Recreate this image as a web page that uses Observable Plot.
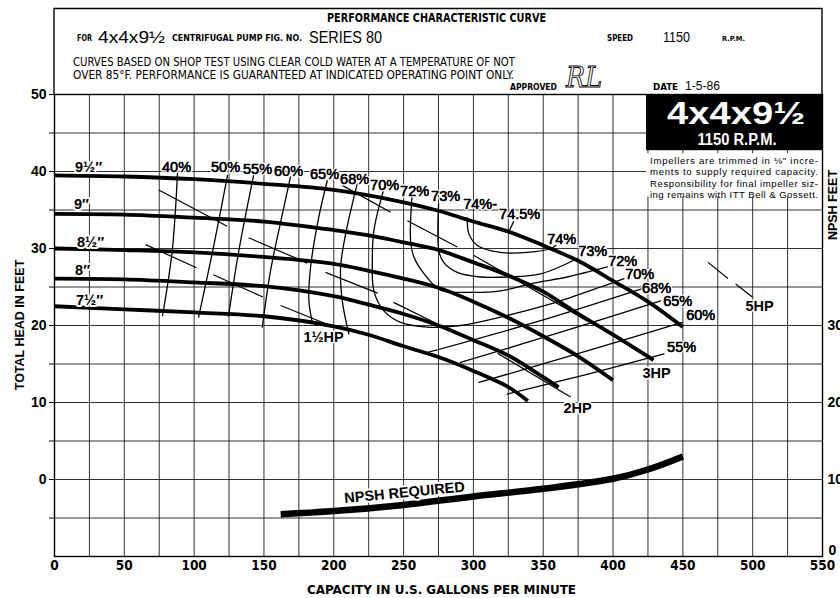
<!DOCTYPE html>
<html><head><meta charset="utf-8">
<script src="https://cdn.jsdelivr.net/npm/d3@7"></script>
<script src="https://cdn.jsdelivr.net/npm/@observablehq/plot@0.6"></script>
<style>
html,body{margin:0;padding:0;background:#fff;}
#chart{position:relative;width:840px;height:598px;overflow:hidden;background:#fff;}
</style></head><body><div id="chart"></div>
<script>
// ---------- DATA ----------
const gpmTicks = [0,50,100,150,200,250,300,350,400,450,500,550];
const headTicks = [0,10,20,30,40,50];
const npshTicks = [0,10,20,30];

// Head-capacity curves per impeller diameter [gpm, ft]
const head95 = [[0,39.5],[50,39.35],[100,39.0],[150,38.4],[200,37.6],[250,36.0],[275,34.9],[300,33.5],[325,32.2],[350,30.4],[375,28.4],[400,25.8],[425,23.1],[450,19.8]];
const head9  = [[0,34.5],[50,34.4],[100,34.0],[150,33.5],[200,32.4],[225,31.7],[250,30.8],[275,29.8],[300,28.2],[325,26.5],[350,24.4],[375,21.5],[400,18.8],[429,15.5]];
const head85 = [[0,30.0],[50,29.8],[100,29.5],[150,28.9],[200,28.0],[225,27.1],[250,26.1],[275,24.9],[300,23.1],[325,21.0],[350,18.6],[375,16.0],[400,12.9]];
const head8  = [[0,26.1],[50,26.0],[100,25.6],[150,25.1],[200,23.8],[225,22.7],[250,21.5],[275,20.0],[300,18.1],[325,16.1],[350,13.3],[361,12.0]];
const head75 = [[0,22.5],[50,22.1],[100,21.7],[150,21.2],[200,19.9],[225,18.8],[250,17.3],[275,15.9],[300,14.1],[325,12.0],[339,10.2]];
const impellerNames = ["9½″","9″","8½″","8″","7½″"];
const impellerLabelX = [24.4,19.3,25.8,20.1,25.1];
const impellerLabelY = [40.5,35.7,30.8,27.1,23.3];

// NPSH required [gpm, NPSH ft]
const npshReq = [[162,5.5],[200,5.9],[250,6.7],[300,7.8],[350,8.8],[400,10.1],[425,11.3],[450,13.0]];

// Efficiency iso-lines [gpm, ft]
const eff40  = [[88.1,39.8],[84.3,29.7],[77.4,21.3]];
const eff50  = [[123.9,39.5],[113.9,30.2],[103.2,21.1]];
const eff55  = [[142.6,39.5],[132.0,29.7],[124.6,21.2]];
const eff60  = [[169.0,39.3],[161.9,33.4],[154.7,27.1],[148.8,19.8]];
const eff65  = [[195.3,38.8],[189.3,34.1],[183.4,27.6],[182.2,23.2],[184.6,20.4]];
const eff68a = [[216.8,38.4],[208.5,31.9],[204.9,27.6],[206.1,23.2],[210.8,18.9]];
const eff70  = [[235.9,37.75],[228.7,32.3],[227.6,28.0],[228.7,24.5],[235.9,21.9],[247.9,20.4],[267.0,19.8],[290.8,20.0],[319.5,21.1],[355.3,22.8],[391.1,25.0],[407.8,26.1]];
const eff72  = [[256.2,37.3],[255.0,31.0],[257.2,29.0],[264.3,26.8],[276.5,24.6],[295.6,24.3],[319.5,24.5],[343.1,25.5],[367.3,26.3],[395.9,27.6]];
const eff73  = [[275.1,35.8],[275.3,29.7],[278.7,28.2],[288.5,26.9],[305.2,26.3],[324.3,26.3],[348.1,26.7],[374.4,28.7]];
const eff74  = [[295.6,34.0],[296.8,31.9],[302.8,30.4],[319.5,29.5],[338.6,29.5],[355.3,30.0],[359.0,30.4]];
const eff745 = [[328.8,33.5],[325.2,32.1]];
const eff68b = [[267.1,16.5],[343.8,20.4],[421.0,24.8]];
const eff65b = [[290.8,15.2],[362.0,19.1],[434.1,23.2]];
const eff60b = [[304.0,12.6],[376.0,16.4],[449.6,20.4]];
const eff55b = [[324.3,11.1],[380.0,13.6],[436.5,16.3]];
const effLines = [eff40,eff50,eff55,eff60,eff65,eff68a,eff70,eff72,eff73,eff74,eff745,eff68b,eff65b,eff60b,eff55b];

const effLabelText = ["40%","50%","55%","60%","65%","68%","70%","72%","73%","74%-","74.5%","74%","73%","72%","70%","68%","65%","60%","55%"];
const effLabelX = [87.4,122.5,145.4,167.6,193.4,214.9,236.4,257.9,280.1,304.8,333.1,363.2,385.4,406.9,419.1,431.2,446.3,462.8,449.1];
const effLabelY = [40.6,40.5,40.3,40.0,39.6,39.0,38.2,37.4,36.8,35.7,34.4,31.2,29.6,28.3,26.6,24.8,23.2,21.3,17.1];

// Brake horsepower lines, dashed segments [gpm1, ft1, gpm2, ft2]
const hp15 = [[65.2,30.5,101.7,27.5],[113.7,26.6,149.2,23.7],[161.9,22.6,200.1,19.8]];
const hp2  = [[74.7,37.6,123.7,32.9],[139.0,31.4,181.2,28.1],[194.1,26.9,231.4,24.2],[242.8,23.0,276.5,20.0],[317.3,16.4,369.6,10.7]];
const hp3  = [[206.1,38.2,240.7,34.7],[252.7,33.6,288.5,30.2],[300.4,29.1,381.6,20.6],[393.5,19.4,428.2,15.5]];
const hp5  = [[468.0,28.2,482.3,26.1],[487.8,25.4,499.8,23.7]];
const hpLabelText = ["1½HP","2HP","3HP","5HP"];
const hpLabelX = [192.7,374.6,431.2,505.0];
const hpLabelY = [18.5,9.3,13.8,22.5];

// ---------- TABLES ----------
const headRows = [head95,head9,head85,head8,head75].flatMap((c,i)=>c.map(([q,h])=>({id:i,q,h})));
const effRows = effLines.flatMap((c,i)=>c.map(([q,h])=>({id:i,q,h})));
const hpRows = [hp15,hp2,hp3,hp5].flatMap((s,i)=>s.map(([a,b,c,d])=>({id:i,a,b,c,d})));
const impLabels = impellerNames.map((t,i)=>({t,x:impellerLabelX[i],y:impellerLabelY[i]}));
const effLabels = effLabelText.map((t,i)=>({t,x:effLabelX[i],y:effLabelY[i]}));
const hpLabels = hpLabelText.map((t,i)=>({t,x:hpLabelX[i],y:hpLabelY[i]}));
const npshRows = npshReq.map(([q,n])=>({q,n}));

const SANS = "Liberation Sans, Arial, Helvetica, sans-serif";
const COND = "'Liberation Sans Narrow','DejaVu Sans Condensed','Liberation Sans',sans-serif";

const plot = Plot.plot({
  width: 840, height: 598,
  marginLeft: 54, marginRight: 18, marginTop: 94, marginBottom: 42,
  x: {domain: [0, 550]},
  y: {domain: [-10, 50]},
  style: {fontFamily: SANS, background: "white", overflow: "visible"},
  marks: [
    Plot.ruleX(d3.range(25, 550, 25), {stroke: "#1a1a1a", strokeWidth: 0.9}),
    Plot.ruleY(d3.range(-5, 50, 5), {stroke: "#1a1a1a", strokeWidth: 0.9}),
    Plot.rect([0], {x1: 424, x2: 550, y1: 42.7, y2: 50, fill: "black"}),
    Plot.rect([0], {x1: 424, x2: 550, y1: 36.7, y2: 42.3, fill: "white"}),
    Plot.line(effRows, {x: "q", y: "h", z: "id", stroke: "black", strokeWidth: 1.3, curve: "catmull-rom"}),
    Plot.link(hpRows, {x1: "a", y1: "b", x2: "c", y2: "d", stroke: "black", strokeWidth: 1.2}),
    Plot.line(headRows, {x: "q", y: "h", z: "id", stroke: "black", strokeWidth: 3.8, curve: "catmull-rom", strokeLinecap: "butt"}),
    Plot.line(npshRows, {x: "q", y: d => d.n - 10, stroke: "black", strokeWidth: 6.5, curve: "catmull-rom", strokeLinecap: "butt"}),
    Plot.text(impLabels, {x: "x", y: "y", text: "t", fontSize: 14.5, fontWeight: "bold", fill: "black", stroke: "white", strokeWidth: 4, paintOrder: "stroke"}),
    Plot.text(effLabels, {x: "x", y: "y", text: "t", fontSize: 14.5, fill: "black", stroke: "white", strokeWidth: 3, paintOrder: "stroke"}),
    Plot.text(effLabels, {x: "x", y: "y", text: "t", fontSize: 14.5, fill: "black", stroke: "black", strokeWidth: 0.45}),
    Plot.text(hpLabels, {x: "x", y: "y", text: "t", fontSize: 14.5, fontWeight: "bold", fill: "black", stroke: "white", strokeWidth: 3, paintOrder: "stroke"}),
    Plot.text(["NPSH REQUIRED"], {x: 250.7, y: -1.7, text: d => d, rotate: -5.5, fontSize: 14.5, fontWeight: "bold", fill: "black", stroke: "white", strokeWidth: 4, paintOrder: "stroke"}),
    Plot.frame({stroke: "black", strokeWidth: 1.4}),
    Plot.axisY({ticks: d3.range(-5, 51, 5), tickFormat: d => (d % 10 === 0 && headTicks.includes(d)) ? d : "", tickSize: 5, tickPadding: 3, fontSize: 14, fontWeight: "bold", label: null}),
    Plot.axisX({ticks: gpmTicks, tickSize: 0, tickPadding: 4, fontSize: 13.5, fontWeight: "bold", fontFamily: COND, label: null}),
    Plot.text(npshTicks.filter(d => d > 0), {x: 550, y: d => d - 10, text: d => String(d), textAnchor: "start", dx: 5, fontSize: 14, fontWeight: "bold"}),
    Plot.text(npshTicks.filter(d => d === 0), {x: 550, y: d => d - 10, text: d => String(d), textAnchor: "start", dx: 6, dy: -6, fontSize: 14, fontWeight: "bold"})
  ]
});
document.getElementById("chart").appendChild(plot);

// ---------- HEADER AND ANNOTATION TEXT ----------
const svg = d3.select(plot);
const g = svg.append("g").attr("text-anchor", "start");
g.append("path").attr("d", "M54,94V8.5H822V94").attr("fill", "none").attr("stroke", "black").attr("stroke-width", 1.4);

const headerText = [
  ["PERFORMANCE CHARACTERISTIC CURVE", 327, 22, 11.5, "bold", 219, COND],
  ["FOR", 77, 41, 8, "bold", 15, COND],
  ["4x4x9½", 98, 42.5, 17, "normal", 67, SANS],
  ["CENTRIFUGAL PUMP FIG. NO.", 172, 41, 8, "bold", 130, COND],
  ["SERIES 80", 309, 43, 16.5, "normal", 73, SANS],
  ["SPEED", 607, 41, 8, "bold", 26, COND],
  ["1150", 663, 41.5, 15, "normal", 27, SANS],
  ["R.P.M.", 722, 41, 7, "bold", 23, COND],
  ["CURVES BASED ON SHOP TEST USING CLEAR COLD WATER AT A TEMPERATURE OF NOT", 73, 65.5, 11.5, "normal", 442, COND],
  ["OVER 85°F. PERFORMANCE IS GUARANTEED AT INDICATED OPERATING POINT ONLY.", 73, 78.5, 11.5, "normal", 441, COND],
  ["APPROVED", 510, 89.5, 8, "bold", 47, COND],
  ["DATE", 653, 89.5, 8, "bold", 25, COND],
  ["1-5-86", 685, 89.5, 12, "normal", 35, SANS]
];
for (const [s, x, y, size, w, len, fam] of headerText) {
  g.append("text").attr("x", x).attr("y", y).attr("text-anchor", "start").attr("font-size", size).attr("font-weight", w)
    .attr("font-family", fam).attr("textLength", len).attr("lengthAdjust", "spacingAndGlyphs").attr("fill", "black").text(s);
}
// signature
g.append("text").attr("x", 566).attr("y", 87).attr("text-anchor", "start").attr("font-size", 27).attr("font-style", "italic")
  .attr("font-family", "DejaVu Serif, serif").attr("font-weight", "normal").attr("fill", "none").attr("stroke", "black").attr("stroke-width", 0.9)
  .attr("textLength", 36).attr("lengthAdjust", "spacingAndGlyphs").text("RL");

// black box text
g.append("text").attr("x", 736).attr("y", 124).attr("text-anchor", "middle").attr("font-size", 31).attr("font-weight", "bold")
  .attr("font-family", SANS).attr("fill", "white").attr("textLength", 138).attr("lengthAdjust", "spacingAndGlyphs").text("4x4x9½");
g.append("text").attr("x", 737).attr("y", 145).attr("text-anchor", "middle").attr("font-size", 16).attr("font-weight", "bold")
  .attr("font-family", SANS).attr("fill", "white").attr("textLength", 79).attr("lengthAdjust", "spacingAndGlyphs").text("1150 R.P.M.");
const noteLines = ["Impellers are trimmed in ⅛\" incre-", "ments to supply required capacity.", "Responsibility for final impeller siz-", "ing remains with ITT Bell & Gossett."];
noteLines.forEach((s, i) => {
  g.append("text").attr("x", 650).attr("y", 163.5 + i * 11.5).attr("text-anchor", "start").attr("font-size", 9.6).attr("font-family", SANS)
    .attr("fill", "black").attr("textLength", 168).attr("lengthAdjust", "spacing").text(s);
});

// axis titles
g.append("text").attr("transform", "translate(24,325) rotate(-90)").attr("text-anchor", "middle").attr("font-size", 12.5)
  .attr("font-weight", "bold").attr("font-family", SANS).attr("fill", "black").text("TOTAL HEAD IN FEET");
g.append("text").attr("transform", "translate(837,205) rotate(-90)").attr("text-anchor", "middle").attr("font-size", 12.5)
  .attr("font-weight", "bold").attr("font-family", SANS).attr("fill", "black").text("NPSH FEET");
g.append("text").attr("x", 307).attr("y", 594).attr("text-anchor", "start").attr("font-size", 12).attr("font-weight", "bold").attr("font-family", COND)
  .attr("fill", "black").attr("textLength", 269).attr("lengthAdjust", "spacingAndGlyphs").text("CAPACITY IN U.S. GALLONS PER MINUTE");
</script>
</body></html>
